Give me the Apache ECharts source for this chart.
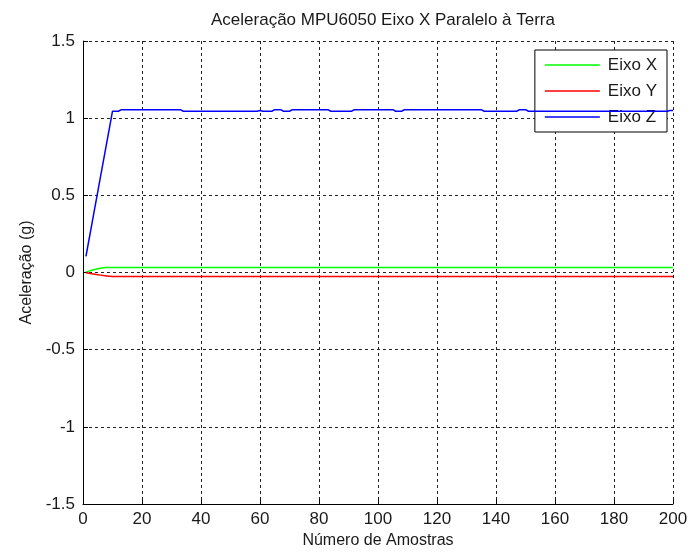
<!DOCTYPE html>
<html>
<head>
<meta charset="utf-8">
<script src="https://cdn.jsdelivr.net/npm/echarts@6/dist/echarts.min.js"></script>
<style>
  html, body { margin: 0; padding: 0; background: #ffffff; }
  #chart { width: 700px; height: 554px; }
</style>
</head>
<body>
<div id="chart"></div>
<script>
// Leituras do MPU6050 (g), uma por amostra, amostras 1..200
const eixoX = [
  0.003, 0.009, 0.015, 0.020, 0.024, 0.028, 0.031, 0.032, 0.032, 0.032,
  0.032, 0.032, 0.032, 0.032, 0.032, 0.032, 0.032, 0.032, 0.032, 0.032,
  0.032, 0.032, 0.032, 0.032, 0.032, 0.032, 0.032, 0.032, 0.032, 0.032,
  0.032, 0.032, 0.032, 0.032, 0.032, 0.032, 0.032, 0.032, 0.032, 0.032,
  0.032, 0.032, 0.032, 0.032, 0.032, 0.032, 0.032, 0.032, 0.032, 0.032,
  0.032, 0.032, 0.032, 0.032, 0.032, 0.032, 0.032, 0.032, 0.032, 0.032,
  0.032, 0.032, 0.032, 0.032, 0.032, 0.032, 0.032, 0.032, 0.032, 0.032,
  0.032, 0.032, 0.032, 0.032, 0.032, 0.032, 0.032, 0.032, 0.032, 0.032,
  0.032, 0.032, 0.032, 0.032, 0.032, 0.032, 0.032, 0.032, 0.032, 0.032,
  0.032, 0.032, 0.032, 0.032, 0.032, 0.032, 0.032, 0.032, 0.032, 0.032,
  0.032, 0.032, 0.032, 0.032, 0.032, 0.032, 0.032, 0.032, 0.032, 0.032,
  0.032, 0.032, 0.032, 0.032, 0.032, 0.032, 0.032, 0.032, 0.032, 0.032,
  0.032, 0.032, 0.032, 0.032, 0.032, 0.032, 0.032, 0.032, 0.032, 0.032,
  0.032, 0.032, 0.032, 0.032, 0.032, 0.032, 0.032, 0.032, 0.032, 0.032,
  0.032, 0.032, 0.032, 0.032, 0.032, 0.032, 0.032, 0.032, 0.032, 0.032,
  0.032, 0.032, 0.032, 0.032, 0.032, 0.032, 0.032, 0.032, 0.032, 0.032,
  0.032, 0.032, 0.032, 0.032, 0.032, 0.032, 0.032, 0.032, 0.032, 0.032,
  0.032, 0.032, 0.032, 0.032, 0.032, 0.032, 0.032, 0.032, 0.032, 0.032,
  0.032, 0.032, 0.032, 0.032, 0.032, 0.032, 0.032, 0.032, 0.032, 0.032,
  0.032, 0.032, 0.032, 0.032, 0.032, 0.032, 0.032, 0.032, 0.032, 0.032
];
const eixoY = [
  -0.002, -0.005, -0.008, -0.011, -0.014, -0.017, -0.020, -0.022, -0.024, -0.026,
  -0.026, -0.026, -0.026, -0.026, -0.026, -0.026, -0.026, -0.026, -0.026, -0.026,
  -0.026, -0.026, -0.026, -0.026, -0.026, -0.026, -0.026, -0.026, -0.026, -0.026,
  -0.026, -0.026, -0.026, -0.026, -0.026, -0.026, -0.026, -0.026, -0.026, -0.026,
  -0.026, -0.026, -0.026, -0.026, -0.026, -0.026, -0.026, -0.026, -0.026, -0.026,
  -0.026, -0.026, -0.026, -0.026, -0.026, -0.026, -0.026, -0.026, -0.026, -0.026,
  -0.026, -0.026, -0.026, -0.026, -0.026, -0.026, -0.026, -0.026, -0.026, -0.026,
  -0.026, -0.026, -0.026, -0.026, -0.026, -0.026, -0.026, -0.026, -0.026, -0.026,
  -0.026, -0.026, -0.026, -0.026, -0.026, -0.026, -0.026, -0.026, -0.026, -0.026,
  -0.026, -0.026, -0.026, -0.026, -0.026, -0.026, -0.026, -0.026, -0.026, -0.026,
  -0.026, -0.026, -0.026, -0.026, -0.026, -0.026, -0.026, -0.026, -0.026, -0.026,
  -0.026, -0.026, -0.026, -0.026, -0.026, -0.026, -0.026, -0.026, -0.026, -0.026,
  -0.026, -0.026, -0.026, -0.026, -0.026, -0.026, -0.026, -0.026, -0.026, -0.026,
  -0.026, -0.026, -0.026, -0.026, -0.026, -0.026, -0.026, -0.026, -0.026, -0.026,
  -0.026, -0.026, -0.026, -0.026, -0.026, -0.026, -0.026, -0.026, -0.026, -0.026,
  -0.026, -0.026, -0.026, -0.026, -0.026, -0.026, -0.026, -0.026, -0.026, -0.026,
  -0.026, -0.026, -0.026, -0.026, -0.026, -0.026, -0.026, -0.026, -0.026, -0.026,
  -0.026, -0.026, -0.026, -0.026, -0.026, -0.026, -0.026, -0.026, -0.026, -0.026,
  -0.026, -0.026, -0.026, -0.026, -0.026, -0.026, -0.026, -0.026, -0.026, -0.026,
  -0.026, -0.026, -0.026, -0.026, -0.026, -0.026, -0.026, -0.026, -0.026, -0.026
];
const eixoZ = [
  0.105, 0.209, 0.314, 0.418, 0.523, 0.627, 0.732, 0.836, 0.941, 1.045,
  1.045, 1.045, 1.055, 1.055, 1.055, 1.055, 1.055, 1.055, 1.055, 1.055,
  1.055, 1.055, 1.055, 1.055, 1.055, 1.055, 1.055, 1.055, 1.055, 1.055,
  1.055, 1.055, 1.055, 1.045, 1.045, 1.045, 1.045, 1.045, 1.045, 1.045,
  1.045, 1.045, 1.045, 1.045, 1.045, 1.045, 1.045, 1.045, 1.045, 1.045,
  1.045, 1.045, 1.045, 1.045, 1.045, 1.045, 1.045, 1.045, 1.045, 1.050,
  1.045, 1.045, 1.045, 1.045, 1.055, 1.055, 1.055, 1.045, 1.045, 1.045,
  1.055, 1.055, 1.055, 1.055, 1.055, 1.055, 1.055, 1.055, 1.055, 1.055,
  1.055, 1.055, 1.055, 1.045, 1.045, 1.045, 1.045, 1.045, 1.045, 1.045,
  1.045, 1.055, 1.055, 1.055, 1.055, 1.055, 1.055, 1.055, 1.055, 1.055,
  1.055, 1.055, 1.055, 1.055, 1.055, 1.045, 1.045, 1.045, 1.055, 1.055,
  1.055, 1.055, 1.055, 1.055, 1.055, 1.055, 1.055, 1.055, 1.055, 1.055,
  1.055, 1.055, 1.055, 1.055, 1.055, 1.055, 1.055, 1.055, 1.055, 1.055,
  1.055, 1.055, 1.055, 1.055, 1.055, 1.045, 1.045, 1.045, 1.045, 1.045,
  1.045, 1.045, 1.045, 1.045, 1.045, 1.045, 1.045, 1.055, 1.055, 1.055,
  1.045, 1.045, 1.045, 1.045, 1.045, 1.045, 1.045, 1.045, 1.045, 1.045,
  1.045, 1.045, 1.045, 1.045, 1.045, 1.045, 1.045, 1.045, 1.045, 1.045,
  1.045, 1.045, 1.045, 1.045, 1.045, 1.045, 1.045, 1.045, 1.045, 1.045,
  1.045, 1.045, 1.045, 1.045, 1.045, 1.045, 1.045, 1.045, 1.045, 1.045,
  1.045, 1.045, 1.045, 1.045, 1.045, 1.045, 1.045, 1.045, 1.050, 1.050
];
const nomesSeries = ['Eixo X', 'Eixo Y', 'Eixo Z'];
const coresSeries = ['#00ff00', '#ff0000', '#0000ff'];
const ticksX = [0, 20, 40, 60, 80, 100, 120, 140, 160, 180, 200];
const ticksY = [-1.5, -1, -0.5, 0, 0.5, 1, 1.5];

const FONTE = '"Liberation Sans", Arial, sans-serif';
const TEXTO = '#1a1a1a';

// pares [amostra, valor] com numeração a partir de 1
const paraPontos = arr => arr.map((v, i) => [i + 1, v]);

const gradeTracejada = {
  show: true,
  lineStyle: { color: '#222', width: 1, type: [3, 3] }
};

const chart = echarts.init(document.getElementById('chart'), null, { renderer: 'canvas' });
chart.setOption({
  backgroundColor: '#ffffff',
  animation: false,
  title: {
    text: 'Aceleração MPU6050 Eixo X Paralelo à Terra',
    left: 378, textAlign: 'center', top: 7,
    textStyle: { fontFamily: FONTE, fontSize: 17, fontWeight: 'normal', color: TEXTO }
  },
  grid: { left: 83, right: 27, top: 41, bottom: 46, containLabel: false },
  legend: {
    data: nomesSeries,
    orient: 'vertical',
    right: 33, top: 50,
    padding: [5, 10, 5, 10],
    icon: 'rect',
    itemWidth: 55, itemHeight: 1.5,
    itemGap: 6,
    backgroundColor: '#ffffff',
    borderColor: '#000000', borderWidth: 1, borderRadius: 0,
    textStyle: { fontFamily: FONTE, fontSize: 17, color: TEXTO, lineHeight: 20, padding: [0, 0, 0, 3] }
  },
  xAxis: {
    type: 'value',
    min: ticksX[0], max: ticksX[ticksX.length - 1], interval: 20,
    name: 'Número de Amostras',
    nameLocation: 'middle', nameGap: 29,
    nameTextStyle: { fontFamily: FONTE, fontSize: 16, color: TEXTO },
    axisLine: { show: true, onZero: false, lineStyle: { color: '#000', width: 1 } },
    axisTick: { show: true, inside: true, length: 5, lineStyle: { color: '#000' } },
    axisLabel: { fontFamily: FONTE, fontSize: 17, color: TEXTO, margin: 7 },
    splitLine: gradeTracejada
  },
  yAxis: {
    type: 'value',
    min: ticksY[0], max: ticksY[ticksY.length - 1], interval: 0.5,
    name: 'Aceleração (g)',
    nameLocation: 'middle', nameGap: 47,
    nameTextStyle: { fontFamily: FONTE, fontSize: 16, color: TEXTO },
    axisLine: { show: true, lineStyle: { color: '#000', width: 1 } },
    axisTick: { show: true, inside: true, length: 5, lineStyle: { color: '#000' } },
    axisLabel: { fontFamily: FONTE, fontSize: 17, color: TEXTO, margin: 8 },
    splitLine: gradeTracejada
  },
  series: [eixoX, eixoY, eixoZ].map((arr, k) => ({
    name: nomesSeries[k],
    type: 'line',
    data: paraPontos(arr),
    symbol: 'none',
    showSymbol: false,
    color: coresSeries[k],
    lineStyle: { color: coresSeries[k], width: 1.5 },
    z: 3 + k
  }))
});
</script>
</body>
</html>
